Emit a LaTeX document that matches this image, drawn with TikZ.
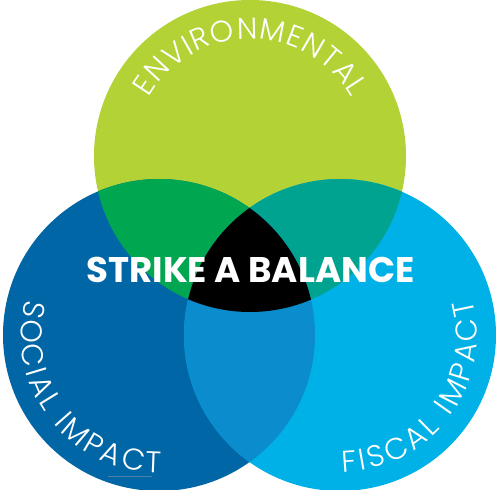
\documentclass[tikz,border=0pt]{standalone}
\usepackage{fontspec}
\usetikzlibrary{decorations.text}
\newfontfamily\lightfont{Poppins Light}
\newfontfamily\popfont{Poppins}
\newcommand\arcfont{\lightfont\fontsize{30}{30}\selectfont\color{white}}
\definecolor{cgreen}{HTML}{B2D235}
\definecolor{cdark}{HTML}{0066A6}
\definecolor{clight}{HTML}{00B1E7}
\definecolor{cgd}{HTML}{00A650}
\definecolor{cgl}{HTML}{00A38F}
\definecolor{cdl}{HTML}{0A8CCD}
\definecolor{cline}{HTML}{4D7FA8}
\tikzset{
  arclabel/.style={decorate, decoration={text along path,
      text align={fit to path},
      text={|\arcfont|#1}}}
}
\begin{document}
\begin{tikzpicture}[x=1pt,y=1pt]
\useasboundingbox (0,0) rectangle (501,490);
\coordinate (T) at (250,334);
\coordinate (L) at (159,155);
\coordinate (R) at (340,155);
\def\rr{156}
% base circles
\fill[cgreen] (T) circle[radius=\rr];
\fill[cdark] (L) circle[radius=\rr];
\fill[clight] (R) circle[radius=\rr];
% pairwise overlaps
\begin{scope}
  \clip (T) circle[radius=\rr];
  \fill[cgd] (L) circle[radius=\rr];
  \fill[cgl] (R) circle[radius=\rr];
\end{scope}
\begin{scope}
  \clip (L) circle[radius=\rr];
  \fill[cdl] (R) circle[radius=\rr];
\end{scope}
% triple overlap
\begin{scope}
  \clip (T) circle[radius=\rr];
  \clip (L) circle[radius=\rr];
  \fill[black] (R) circle[radius=\rr];
\end{scope}
% curved labels
\path[arclabel=ENVIRONMENTAL] ([shift={(150:117)}]T) arc[start angle=150, end angle=30, radius=117];
\path[arclabel=SOCIAL IMPACT] ([shift={(165:138)}]L) arc[start angle=165, end angle=271, radius=138];
\path[arclabel=FISCAL IMPACT] ([shift={(271:137)}]R) arc[start angle=271, end angle=375, radius=137];
% faint line under IMPACT
\draw[cline, line width=1pt] (108,13) -- (152,13);
% centre title
\node[inner sep=0pt, text=white, font=\popfont\bfseries\fontsize{35.6}{36}\selectfont] (title) at (250.5,220.5) {STRIKE A BALANCE};
\end{tikzpicture}
\end{document}
